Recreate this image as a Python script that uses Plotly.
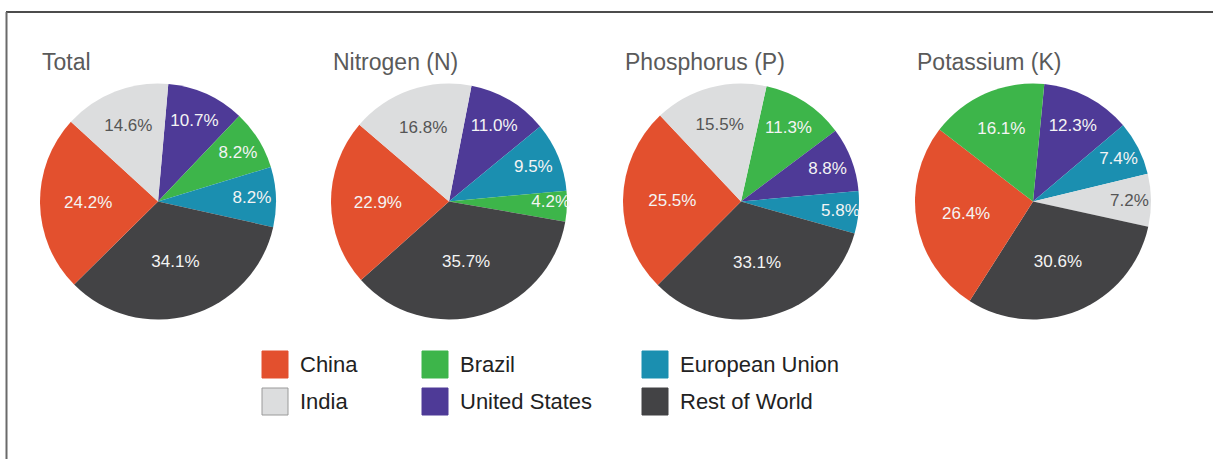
import plotly.graph_objects as go

# ---------------- data ----------------
panel_titles = ["Total", "Nitrogen (N)", "Phosphorus (P)", "Potassium (K)"]

total_labels = ["United States", "Brazil", "European Union", "Rest of World", "China", "India"]
total_values = [10.7, 8.2, 8.2, 34.1, 24.2, 14.6]

nitrogen_labels = ["United States", "European Union", "Brazil", "Rest of World", "China", "India"]
nitrogen_values = [11.0, 9.5, 4.2, 35.7, 22.9, 16.8]

phosphorus_labels = ["Brazil", "United States", "European Union", "Rest of World", "China", "India"]
phosphorus_values = [11.3, 8.8, 5.8, 33.1, 25.5, 15.5]

potassium_labels = ["United States", "European Union", "India", "Rest of World", "China", "Brazil"]
potassium_values = [12.3, 7.4, 7.2, 30.6, 26.4, 16.1]

legend_labels = ["China", "India", "Brazil", "United States", "European Union", "Rest of World"]

# ---------------- style ----------------
colors = {
    "China": "#E3502E",
    "India": "#DCDDDE",
    "Brazil": "#3DB54A",
    "United States": "#4E3A97",
    "European Union": "#1B8FB0",
    "Rest of World": "#434345",
}
text_colors = {k: ("#555555" if k == "India" else "#F4F4F4") for k in colors}

W, H = 1213, 459
centers_px = [158, 449, 741, 1033]
cy_px = 201.5
r_px = 118
rotations = [5, 11, 12.5, 5.5]

datasets = [
    (total_labels, total_values),
    (nitrogen_labels, nitrogen_values),
    (phosphorus_labels, phosphorus_values),
    (potassium_labels, potassium_values),
]

fig = go.Figure()
for i, (labs, vals) in enumerate(datasets):
    cx = centers_px[i]
    fig.add_trace(go.Pie(
        labels=labs,
        values=vals,
        sort=False,
        direction="clockwise",
        rotation=rotations[i],
        marker=dict(colors=[colors[l] for l in labs], line=dict(width=0)),
        texttemplate="%{value:.1f}%",
        textposition="inside",
        insidetextorientation="horizontal",
        textfont=dict(family="Liberation Sans, Arial, sans-serif", size=17,
                      color=[text_colors[l] for l in labs]),
        hoverinfo="label+value",
        showlegend=False,
        domain=dict(x=[(cx - r_px) / W, (cx + r_px) / W],
                    y=[1 - (cy_px + r_px) / H, 1 - (cy_px - r_px) / H]),
    ))

annotations = []
for i, t in enumerate(panel_titles):
    annotations.append(dict(
        text=t, xref="paper", yref="paper",
        x=(centers_px[i] - r_px) / W, y=1 - 62 / H,
        xanchor="left", yanchor="middle", showarrow=False,
        font=dict(family="Liberation Sans, Arial, sans-serif", size=23, color="#5A5A5A"),
    ))

shapes = []
# custom legend: 3 columns x 2 rows
col_x = [262, 422, 642]
row_y = [351, 388]
sw = 26
sh = 27
for k, lab in enumerate(legend_labels):
    c = k // 2
    r = k % 2
    x0 = col_x[c]
    y0 = row_y[r]
    shapes.append(dict(
        type="rect", xref="paper", yref="paper",
        x0=x0 / W, x1=(x0 + sw) / W, y0=1 - (y0 + sh) / H, y1=1 - y0 / H,
        fillcolor=colors[lab], line=dict(color="#9A9A9A" if lab == "India" else colors[lab], width=1),
    ))
    annotations.append(dict(
        text=lab, xref="paper", yref="paper",
        x=(x0 + sw + 10) / W, y=1 - (y0 + sh / 2) / H,
        xanchor="left", yanchor="middle", showarrow=False,
        font=dict(family="Liberation Sans, Arial, sans-serif", size=22, color="#222222"),
    ))

# frame lines
shapes.append(dict(type="line", xref="paper", yref="paper",
                   x0=6 / W, x1=1, y0=1 - 12 / H, y1=1 - 12 / H,
                   line=dict(color="#111111", width=1.5)))
shapes.append(dict(type="line", xref="paper", yref="paper",
                   x0=6.5 / W, x1=6.5 / W, y0=0, y1=1 - 12 / H,
                   line=dict(color="#6A6A6A", width=2)))

fig.update_layout(
    width=W, height=H,
    margin=dict(l=0, r=0, t=0, b=0),
    paper_bgcolor="white",
    plot_bgcolor="white",
    annotations=annotations,
    shapes=shapes,
    uniformtext=dict(minsize=17, mode="show"),
)

fig.write_html(
    "out.html",
    config={"displayModeBar": False},
    post_script="document.body.style.margin='0';document.body.style.overflow='hidden';",
)
